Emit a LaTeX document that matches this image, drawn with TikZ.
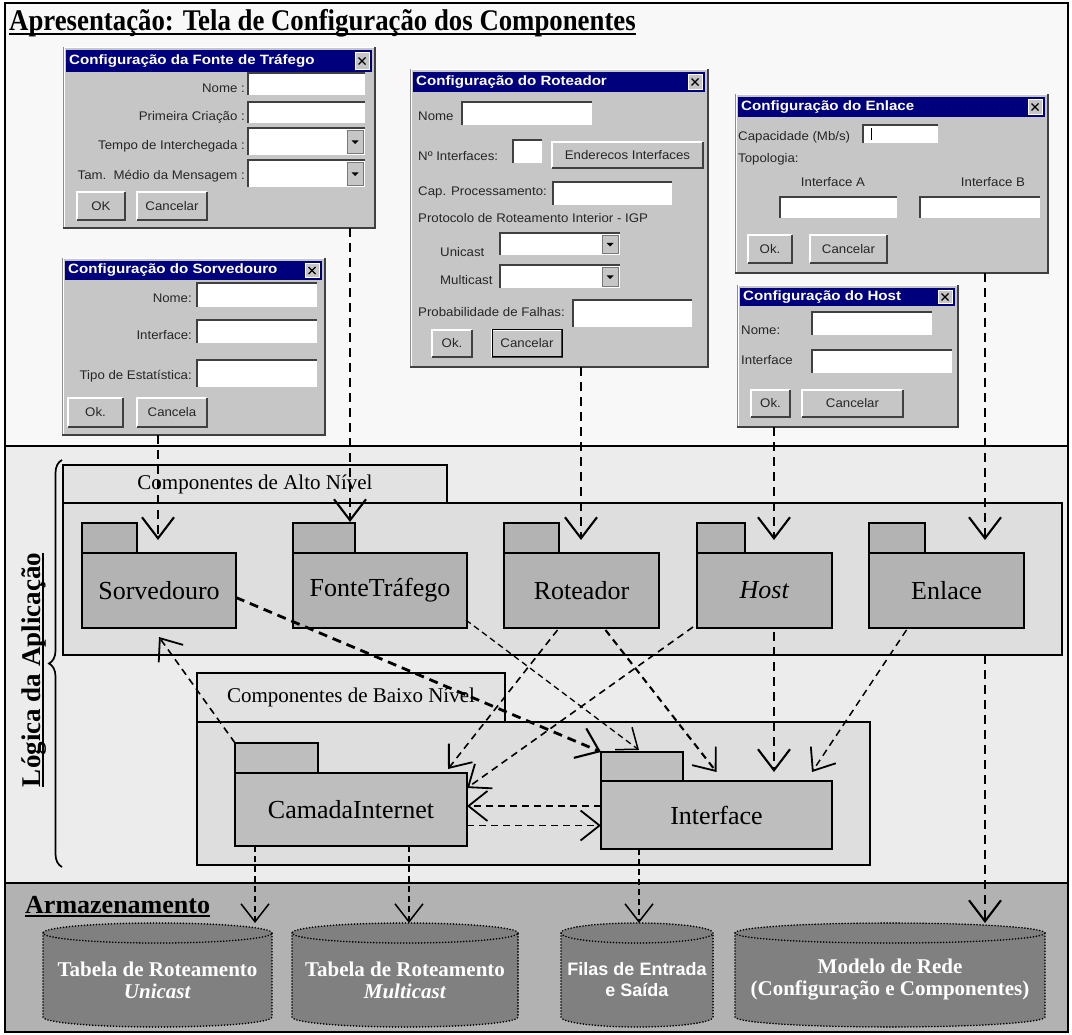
\documentclass[tikz,border=0pt]{standalone}
\usepackage{fontspec}
\setmainfont{Liberation Serif}
\setsansfont{Liberation Sans}
\newfontfamily\dlgsans[FakeStretch=1.06]{Liberation Sans}
\newfontfamily\dlgsanswide[FakeStretch=1.12]{Liberation Sans}
\newfontfamily\condserif[FakeStretch=0.893]{Liberation Serif}
\usetikzlibrary{arrows.meta,decorations.pathreplacing,calc}

\definecolor{topbg}{HTML}{F8F8F8}
\definecolor{midbg}{HTML}{ECECEC}
\definecolor{lowbg}{HTML}{B2B2B2}
\definecolor{boxbg}{HTML}{DEDEDE}
\definecolor{tabbg}{HTML}{E2E2E2}
\definecolor{pkgA}{HTML}{B3B3B3}
\definecolor{pkgB}{HTML}{BEBEBE}
\definecolor{cylfill}{HTML}{808080}
\definecolor{wingray}{HTML}{C6C6C6}
\definecolor{winnavy}{HTML}{00007C}
\definecolor{windark}{HTML}{404040}

\newsavebox\ulbox
\newcommand\ulinebold[1]{\sbox\ulbox{#1}\rlap{\rule[-4pt]{\wd\ulbox}{2pt}}\usebox\ulbox}
\newcommand\dlgfont{\dlgsans\fontsize{12.5}{14}\selectfont}

\tikzset{
  dlgbox/.style={anchor=north west, fill=wingray, draw=windark!60, line width=0.8pt, inner sep=0, outer sep=0},
  dlgtitle/.style={anchor=west, inner sep=0, text=white, font=\dlgsanswide\bfseries\fontsize{13.5}{15}\selectfont},
  dlgclose/.style={fill=wingray, draw=white, line width=0.6pt, inner sep=0},
  fieldbox/.style={anchor=north west, fill=white, inner sep=0, outer sep=0},
  combobtn/.style={fill=wingray, draw=windark!70, line width=0.6pt, inner sep=0, outer sep=0},
  btnbox/.style={anchor=north west, fill=wingray, inner sep=0, outer sep=0, font=\dlgfont, text=black!85},
  dlglbl/.style={inner sep=0, font=\dlgfont, text=black!85},
  grouptab/.style={anchor=north west, draw, line width=1.2pt, fill=tabbg, inner sep=0, outer sep=0, font=\fontsize{21}{24}\selectfont},
  groupbox/.style={anchor=north west, draw, line width=1.2pt, fill=boxbg, inner sep=0, outer sep=0},
  pkgtab/.style={anchor=north west, draw, line width=1.2pt, fill=pkgA, inner sep=0, outer sep=0},
  pkgbody/.style={anchor=north west, draw, line width=1.2pt, fill=pkgA, inner sep=0, outer sep=0, font=\fontsize{26}{30}\selectfont},
  cyltext/.style={inner sep=0, text=white, align=center, font=\bfseries\fontsize{21}{24}\selectfont},
  dep/.style={dash pattern=on 7pt off 5pt, line width=1.6pt, -{Straight Barb[length=19pt,width=30pt,line width=1.8pt]}},
  depthick/.style={dash pattern=on 9pt off 6pt, line width=2.8pt, -{Straight Barb[length=21pt,width=32pt,line width=2.1pt]}},
  depthin/.style={dash pattern=on 6pt off 4pt, line width=1.3pt, -{Straight Barb[length=18pt,width=28pt,line width=1.5pt]}},
  cylline/.style={line width=1.8pt, dash pattern=on 0pt off 3pt, line cap=round},
}

% window frame: name, x1, y1, x2, y2, title, title bar height
\newcommand\windlg[7]{%
  \node[dlgbox, minimum width={(#4)-(#2)}, minimum height={(#5)-(#3)}] (#1) at (#2,#3) {};
  \draw[windark, line width=2pt] (#2,#5) -- (#4,#5) -- (#4,#3);
  \draw[white, line width=1pt] (#2+1,#5-1) -- (#2+1,#3+1) -- (#4-1,#3+1);
  \fill[winnavy] (#2+3,#3+3) rectangle (#4-3,#3+3+#7);
  \node[dlgtitle] (#1-title) at (#2+6,#3+3+#7/2) {#6};
  \node[dlgclose, minimum width=14pt, minimum height={#7-5}] (#1-close) at (#4-13,#3+3+#7/2) {};
  \draw[black, line width=1.2pt] ($(#1-close.center)+(-3.5,-3.5)$) -- ($(#1-close.center)+(3.5,3.5)$)
        ($(#1-close.center)+(-3.5,3.5)$) -- ($(#1-close.center)+(3.5,-3.5)$);
}
% sunken text field
\newcommand\wfield[5]{%
  \node[fieldbox, minimum width={(#4)-(#2)}, minimum height={(#5)-(#3)}] (#1) at (#2,#3) {};
  \draw[windark, line width=1.3pt] (#1.south west) -- (#1.north west) -- (#1.north east);
}
% drop-down list
\newcommand\wcombo[5]{%
  \wfield{#1}{#2}{#3}{#4}{#5}
  \node[combobtn, anchor=east, minimum width=16pt, minimum height={(#5)-(#3)-4}] (#1-btn) at ($(#1.east)+(-2,0)$) {};
  \fill ($(#1-btn.center)+(-3.5,-1)$) -- ++(7,0) -- ++(-3.5,3.5) -- cycle;
}
% raised push button
\newcommand\wbutton[6]{%
  \node[btnbox, minimum width={(#4)-(#2)}, minimum height={(#5)-(#3)}] (#1) at (#2,#3) {#6};
  \draw[white, line width=1.2pt] (#1.south west) -- (#1.north west) -- (#1.north east);
  \draw[windark, line width=1.8pt] (#1.south west) -- (#1.south east) -- (#1.north east);
}
% storage cylinder: name, centre x, x radius, top y, bottom y
\newcommand\storecyl[5]{%
  \fill[cylfill] ({#2-#3},#4+10) -- ({#2-#3},#5-10)
     arc[start angle=180, end angle=360, x radius=#3pt, y radius=10pt]
     -- ({#2+#3},#4+10)
     arc[start angle=0, end angle=180, x radius=#3pt, y radius=10pt] -- cycle;
  \draw[cylline] ({#2-#3},#4+10) -- ({#2-#3},#5-10)
     arc[start angle=180, end angle=360, x radius=#3pt, y radius=10pt]
     -- ({#2+#3},#4+10);
  \draw[cylline] (#2,#4+10) ellipse[x radius=#3pt, y radius=10pt];
  \coordinate (#1) at (#2,{(#4+#5)/2+5});
}

\begin{document}
\begin{tikzpicture}[x=1pt,y=-1pt]
\useasboundingbox (0,0) rectangle (1072,1035);
\fill[white] (0,0) rectangle (1072,1035);

% the three layers
\fill[topbg] (5,3) rectangle (1068,446);
\fill[midbg] (5,446) rectangle (1068,883);
\fill[lowbg] (5,883) rectangle (1068,1032);
\draw[line width=1.5pt] (5,446) -- (1068,446) (5,883) -- (1068,883);
\draw[line width=1.5pt] (5,3) rectangle (1068,1032);

\node[anchor=base west, inner sep=0, font=\condserif\bfseries\fontsize{30}{34}\selectfont] (title) at (9,31)
  {\ulinebold{Apresentação: Tela de Configuração dos Componentes}};

% ---------- configuration windows ----------
\windlg{dFonte}{63}{47}{375}{228}{Configuração da Fonte de Tráfego}{22}
\wfield{fF1}{248}{73}{365}{95}
\wfield{fF2}{248}{102}{365}{123}
\wcombo{fF3}{248}{128}{365}{155}
\wcombo{fF4}{248}{160}{365}{187}
\node[dlglbl, anchor=east] (lF1) at (245,88) {Nome :};
\node[dlglbl, anchor=east] (lF2) at (245,117) {Primeira Criação :};
\node[dlglbl, anchor=east] (lF3) at (245,146) {Tempo de Interchegada :};
\node[dlglbl, anchor=east] (lF4) at (245,176) {Tam.~~Médio da Mensagem :};
\wbutton{bF1}{77}{192}{125}{220}{OK}
\wbutton{bF2}{137}{192}{207}{220}{Cancelar}

\windlg{dSorv}{62}{258}{325}{435}{Configuração do Sorvedouro}{19}
\wfield{fS1}{197}{283}{317}{307}
\wfield{fS2}{197}{320}{317}{343}
\wfield{fS3}{197}{360}{317}{387}
\node[dlglbl, anchor=east] (lS1) at (192,298) {Nome:};
\node[dlglbl, anchor=east] (lS2) at (192,335) {Interface:};
\node[dlglbl, anchor=east] (lS3) at (192,376) {Tipo de Estatística:};
\wbutton{bS1}{68}{398}{123}{427}{Ok.}
\wbutton{bS2}{137}{398}{207}{427}{Cancela}

\windlg{dRot}{410}{69}{708}{367}{Configuração do Roteador}{20}
\node[dlglbl, anchor=west] (lR1) at (418,116) {Nome};
\wfield{fR1}{462}{102}{592}{125}
\node[dlglbl, anchor=west] (lR2) at (418,156) {Nº Interfaces:};
\wfield{fR2}{513}{140}{542}{163}
\wbutton{bR0}{552}{142}{703}{168}{Enderecos Interfaces}
\node[dlglbl, anchor=west] (lR3) at (418,192) {Cap. Processamento:};
\wfield{fR3}{553}{182}{672}{205}
\node[dlglbl, anchor=west] (lR4) at (418,218) {Protocolo de Roteamento Interior - IGP};
\node[dlglbl, anchor=west] (lR5) at (440,252) {Unicast};
\wcombo{fR5}{500}{233}{620}{255}
\node[dlglbl, anchor=west] (lR6) at (440,280) {Multicast};
\wcombo{fR6}{500}{265}{620}{288}
\node[dlglbl, anchor=west] (lR7) at (418,312) {Probabilidade de Falhas:};
\wfield{fR7}{573}{300}{692}{327}
\wbutton{bR1}{432}{330}{472}{357}{Ok.}
\wbutton{bR2}{492}{330}{562}{357}{Cancelar}
\draw[black, line width=1pt] (bR2.north west) rectangle (bR2.south east);

\windlg{dEnl}{735}{94}{1048}{273}{Configuração do Enlace}{20}
\node[dlglbl, anchor=west] (lE1) at (738,137) {Capacidade (Mb/s)};
\wfield{fE1}{863}{125}{938}{143}
\draw[black, line width=1pt] (871,128) -- (871,140);
\node[dlglbl, anchor=west] (lE2) at (738,159) {Topologia:};
\node[dlglbl] (lE3) at (833,182) {Interface A};
\node[dlglbl] (lE4) at (993,182) {Interface B};
\wfield{fE3}{780}{197}{897}{218}
\wfield{fE4}{920}{197}{1040}{218}
\wbutton{bE1}{748}{235}{792}{263}{Ok.}
\wbutton{bE2}{810}{235}{887}{263}{Cancelar}

\windlg{dHost}{737}{285}{958}{427}{Configuração do Host}{18}
\node[dlglbl, anchor=west] (lH1) at (741,330) {Nome:};
\wfield{fH1}{812}{312}{932}{335}
\node[dlglbl, anchor=west] (lH2) at (741,360) {Interface};
\wfield{fH2}{812}{350}{952}{373}
\wbutton{bH1}{751}{390}{790}{417}{Ok.}
\wbutton{bH2}{802}{390}{903}{417}{Cancelar}

% ---------- application logic ----------
\draw[decorate, decoration={brace, amplitude=13pt}, line width=1.7pt] (62,867) -- (62,460);
\node[rotate=90, inner sep=0, font=\bfseries\fontsize{27}{30}\selectfont] (logica) at (34,670)
  {\ulinebold{Lógica da Aplicação}};

\node[grouptab, minimum width=384pt, minimum height=38pt] (altoT) at (63,465) {Componentes de Alto Nível};
\node[groupbox, minimum width=999pt, minimum height=152pt] (alto) at (63,503) {};

\node[pkgtab, minimum width=55pt, minimum height=30pt] (sorvT) at (82,523) {};
\node[pkgbody, minimum width=154pt, minimum height=75pt] (sorv) at (82,553) {Sorvedouro};
\node[pkgtab, minimum width=62pt, minimum height=30pt] (fonteT) at (293,523) {};
\node[pkgbody, minimum width=174pt, minimum height=75pt] (fonte) at (293,553) {FonteTráfego};
\node[pkgtab, minimum width=55pt, minimum height=30pt] (rotT) at (504,523) {};
\node[pkgbody, minimum width=155pt, minimum height=75pt] (rot) at (504,553) {Roteador};
\node[pkgtab, minimum width=48pt, minimum height=30pt] (hostT) at (697,523) {};
\node[pkgbody, minimum width=135pt, minimum height=75pt] (host) at (697,553) {\textit{Host}};
\node[pkgtab, minimum width=56pt, minimum height=30pt] (enlT) at (869,523) {};
\node[pkgbody, minimum width=155pt, minimum height=75pt] (enl) at (869,553) {Enlace};

\node[grouptab, minimum width=308pt, minimum height=49pt] (baixoT) at (197,673) {Componentes de Baixo Nível};
\node[groupbox, minimum width=673pt, minimum height=143pt] (baixo) at (197,722) {};

\node[pkgtab, fill=pkgB, minimum width=83pt, minimum height=30pt] (camT) at (235,743) {};
\node[pkgbody, fill=pkgB, minimum width=232pt, minimum height=73pt] (cam) at (235,773) {CamadaInternet};
\node[pkgtab, fill=pkgB, minimum width=82pt, minimum height=29pt] (ifaceT) at (601,752) {};
\node[pkgbody, fill=pkgB, minimum width=231pt, minimum height=68pt] (iface) at (601,781) {Interface};

% ---------- storage ----------
\node[anchor=base west, inner sep=0, font=\bfseries\fontsize{26}{30}\selectfont] (armaz) at (25,913)
  {\ulinebold{Armazenamento}};
\storecyl{cylU}{157.5}{114.5}{923}{1027}
\storecyl{cylM}{405}{113}{923}{1027}
\storecyl{cylF}{637}{76}{923}{1027}
\storecyl{cylR}{890}{155}{923}{1027}
\node[cyltext] (tU) at (cylU) {Tabela de Roteamento\\[-2pt]\textit{Unicast}};
\node[cyltext] (tM) at (cylM) {Tabela de Roteamento\\[-2pt]\textit{Multicast}};
\node[cyltext, font=\sffamily\bfseries\fontsize{18}{21}\selectfont] (tF) at (cylF) {Filas de Entrada\\e Saída};
\node[cyltext] (tR) at (cylR) {Modelo de Rede\\[-2pt](Configuração e Componentes)};

% ---------- dependencies ----------
\coordinate (kSorv) at (158,540);
\coordinate (kFonte) at (350,522);
\coordinate (kRot) at (581,540);
\coordinate (kHost) at (774,540);
\coordinate (kEnl) at (985,540);
\draw[depthick] (dSorv.south -| kSorv) -- (kSorv);
\draw[depthick] (dFonte.south -| kFonte) -- (kFonte);
\draw[depthick] (dRot.south -| kRot) -- (kRot);
\draw[depthick] (dHost.south -| kHost) -- (kHost);
\draw[depthick] (dEnl.south -| kEnl) -- (kEnl);

\draw[depthick] ($(sorv.east)+(0,7)$) -- (ifaceT.north west);
\draw[depthin] ($(fonte.south east)+(-1,-8)$) -- ($(ifaceT.north)+(-3,-2)$);
\draw[dep] ($(rot.south)+(-24,2)$) -- ($(cam.north east)+(-19,-4)$);
\draw[dep, line width=2.1pt] ($(rot.south)+(24,2)$) -- ($(iface.north)+(0,-9)$);
\draw[dep] ($(host.south west)+(-4,-1)$) -- ($(cam.north east)+(0,15)$);
\draw[depthick] ($(host.south)+(9.5,4)$) -- ($(iface.north)+(57.5,-9)$);
\draw[dep, line width=1.5pt] ($(enl.south)+(-40,2)$) -- ($(iface.north)+(95.5,-9)$);
\draw[dep] (camT.north west) -- ($(sorv.south)+(0,9)$);
\coordinate (hA) at ($(iface.west)+(0,-9)$);
\coordinate (hB) at ($(cam.east)+(0,16)$);
\draw[dep, line width=1.5pt] (hA) -- (hA -| cam.east);
\draw[dep, line width=1.5pt] (hB) -- (hB -| iface.west);

\coordinate (sU) at (255,923);
\coordinate (sM) at (409,923);
\coordinate (sF) at (639,923);
\coordinate (sR) at (985,923);
\draw[depthin] (cam.south -| sU) -- (sU);
\draw[depthin] (cam.south -| sM) -- (sM);
\draw[depthin] (iface.south -| sF) -- (sF);
\draw[depthick] (alto.south -| sR) -- (sR);
\end{tikzpicture}
\end{document}
